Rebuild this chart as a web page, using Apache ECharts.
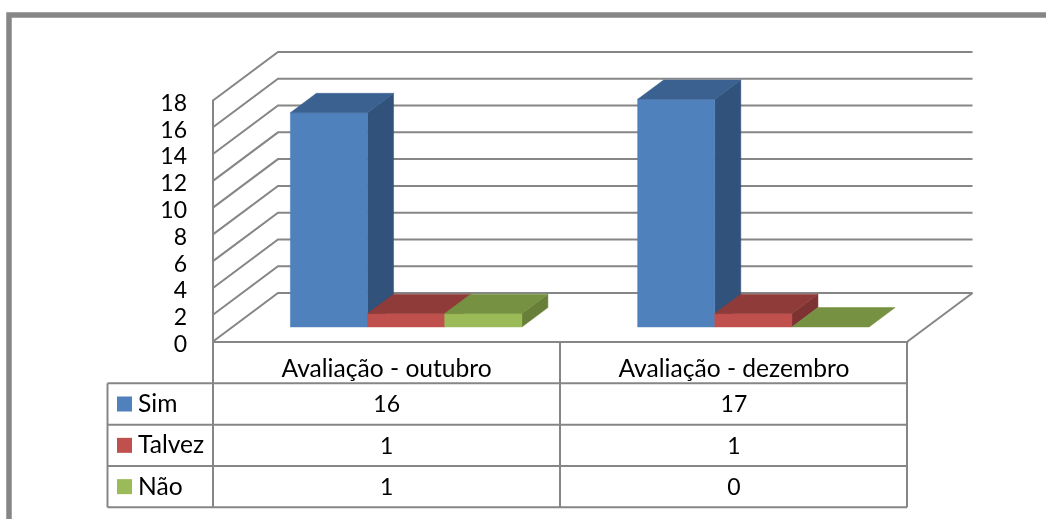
<!DOCTYPE html>
<html>
<head>
<meta charset="utf-8">
<style>html,body{margin:0;padding:0;background:#fff}#chart{width:1046px;height:519px}</style>
<script src="https://cdn.jsdelivr.net/npm/echarts@6/dist/echarts.min.js"></script>
</head>
<body>
<div id="chart"></div>
<script>
// Survey answers per evaluation round
const categories = ['Avaliação - outubro', 'Avaliação - dezembro'];
const seriesNames = ['Sim', 'Talvez', 'Não'];
const sim = [16, 17];
const talvez = [1, 1];
const nao = [1, 0];
const yTicks = [0, 2, 4, 6, 8, 10, 12, 14, 16, 18];

// Face colours of each 3D column: front, top, side
const faces = [
  { front: '#4F81BD', top: '#3B6190', side: '#31527A' },
  { front: '#C0504D', top: '#8F3B39', side: '#7C3331' },
  { front: '#9BBB59', top: '#769141', side: '#677F38' }
];

const FONT = 'Lato';
const FS_TEXT = 24.6;
const FS_NUM = 23;
const LINE = '#868686';

// Plot box: front plane of the value axis and the oblique depth of the room
const grid = { left: 213, right: 1046 - 907.5, top: 100.5, bottom: 519 - 341.5 };
const depthX = 65, depthY = 48.5;
const barStart = 0.3, barDepth = 0.4;
const barBands = 4.5;

// Data table layout
const tableLeft = 107.5, tableRight = 907;
const rowLines = [341.5, 383.3, 424.7, 466, 507.3];
const colLines = [213, 560, 907];

function lineShape(x1, y1, x2, y2) {
  return { type: 'line', shape: { x1, y1, x2, y2 }, style: { stroke: LINE, lineWidth: 2 }, silent: true };
}

function renderGridline(params, api) {
  const p = api.coord([0, api.value(0)]);
  const left = params.coordSys.x;
  const right = left + params.coordSys.width;
  const elems = [{
    type: 'polyline',
    shape: { points: [[left, p[1]], [left + depthX, p[1] - depthY], [right + depthX, p[1] - depthY]] },
    style: { stroke: LINE, lineWidth: 2, fill: 'none' },
    silent: true
  }];
  // The floor closes back towards the front plane on the right
  if (api.value(0) === 0) {
    elems.push(lineShape(right + depthX, p[1] - depthY, right, p[1]));
  }
  return { type: 'group', children: elems };
}

function makeBarRenderer(seriesIndex) {
  const c = faces[seriesIndex];
  return function (params, api) {
    const cat = api.value(0);
    const base = api.coord([cat, 0]);
    const top = api.coord([cat, api.value(1)]);
    const band = api.size([1, 0])[0];
    const w = band / barBands;
    const ox = depthX * barStart, oy = depthY * barStart;
    const dx = depthX * barDepth, dy = depthY * barDepth;
    const x0 = base[0] - 1.5 * w + seriesIndex * w + ox;
    const x1 = x0 + w;
    const yb = base[1] - oy;
    const yt = top[1] - oy;
    const poly = (points, fill) => ({ type: 'polygon', shape: { points }, style: { fill, stroke: fill, lineWidth: 0.5 } });
    const children = [];
    if (yb - yt > 0) {
      children.push(poly([[x1, yt], [x1 + dx, yt - dy], [x1 + dx, yb - dy], [x1, yb]], c.side));
      children.push(poly([[x0, yt], [x1, yt], [x1, yb], [x0, yb]], c.front));
    }
    children.push(poly([[x0, yt], [x1, yt], [x1 + dx, yt - dy], [x0 + dx, yt - dy]], c.top));
    return { type: 'group', children };
  };
}

function pairs(values) {
  return values.map((v, i) => [i, v]);
}

function renderTableCell(params, api) {
  const x = api.coord([api.value(0), 0])[0];
  const row = api.value(1);
  const y = (rowLines[row + 1] + rowLines[row + 2]) / 2;
  return {
    type: 'text',
    style: {
      x, y: y + 1, text: String(api.value(2)), fill: '#000',
      font: FS_NUM + 'px ' + FONT, align: 'center', verticalAlign: 'middle'
    },
    silent: true
  };
}

const cells = [];
[sim, talvez, nao].forEach((vals, r) => vals.forEach((v, c) => cells.push([c, r, v])));

// Table rules, row headers and colour keys
const tableGraphics = [
  { type: 'rect', shape: { x: 9, y: 15, width: 2000, height: 2000 }, style: { fill: 'none', stroke: LINE, lineWidth: 5.5 }, silent: true }
];
rowLines.slice(1).forEach(y => tableGraphics.push(lineShape(tableLeft, y, tableRight, y)));
tableGraphics.push(lineShape(tableLeft, rowLines[1], tableLeft, rowLines[4]));
colLines.forEach(x => tableGraphics.push(lineShape(x, rowLines[0], x, rowLines[4])));
seriesNames.forEach((name, r) => {
  const y = (rowLines[r + 1] + rowLines[r + 2]) / 2;
  tableGraphics.push({ type: 'rect', shape: { x: 117, y: y - 7.5, width: 15, height: 15 }, style: { fill: faces[r].front }, silent: true });
  tableGraphics.push({ type: 'text', x: 138, y: y, style: { text: name, fill: '#000', font: FS_TEXT + 'px ' + FONT, align: 'left', verticalAlign: 'middle' }, silent: true });
});

const chart = echarts.init(document.getElementById('chart'), null, { renderer: 'canvas' });
chart.setOption({
  animation: false,
  backgroundColor: '#fff',
  grid,
  xAxis: {
    type: 'category',
    data: categories,
    axisTick: { show: false },
    axisLine: { lineStyle: { color: LINE, width: 2 } },
    axisLabel: { color: '#000', fontFamily: FONT, fontSize: FS_TEXT, margin: 15 }
  },
  yAxis: {
    type: 'value',
    min: 0,
    max: 18,
    interval: 2,
    splitLine: { show: false },
    axisTick: { show: false },
    axisLine: { show: true, lineStyle: { color: LINE, width: 2 } },
    // Labels sit slightly below their tick, as in a spreadsheet's 3D chart
    axisLabel: { color: '#000', fontFamily: FONT, fontSize: FS_NUM, margin: 26, verticalAlign: 'top', lineHeight: 6 }
  },
  graphic: tableGraphics,
  series: [
    { type: 'custom', name: 'grade', renderItem: renderGridline, data: yTicks.map(v => [v]), encode: { y: 0 }, silent: true, z: 1 },
    { type: 'custom', name: seriesNames[0], renderItem: makeBarRenderer(0), data: pairs(sim), encode: { x: 0, y: 1 }, z: 2 },
    { type: 'custom', name: seriesNames[1], renderItem: makeBarRenderer(1), data: pairs(talvez), encode: { x: 0, y: 1 }, z: 3 },
    { type: 'custom', name: seriesNames[2], renderItem: makeBarRenderer(2), data: pairs(nao), encode: { x: 0, y: 1 }, z: 4 },
    { type: 'custom', name: 'tabela', renderItem: renderTableCell, data: cells, encode: { x: 0 }, silent: true, z: 5 }
  ]
});
</script>
</body>
</html>
